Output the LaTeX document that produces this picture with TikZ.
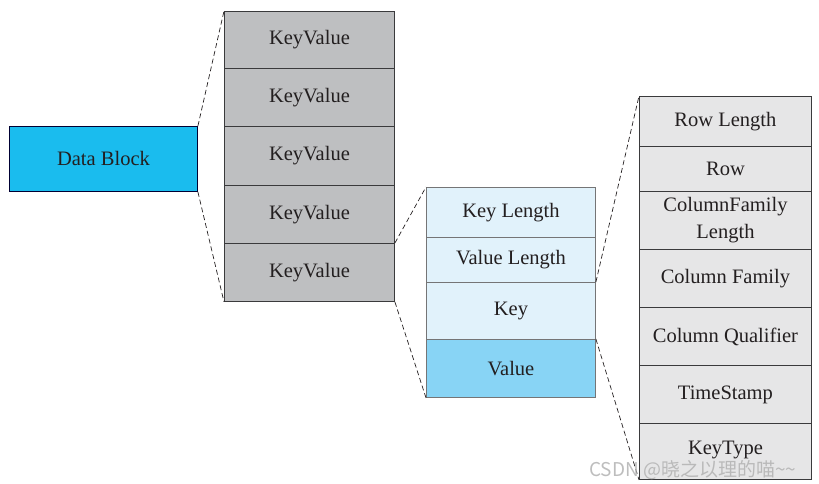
\documentclass[tikz,border=0pt]{standalone}
\usepackage{fontspec}
\setmainfont{Liberation Serif}
\newfontfamily\cjkwm{Noto Sans CJK SC}
\definecolor{dbblue}{HTML}{1ABCEE}
\definecolor{kvgray}{HTML}{BEBFC1}
\definecolor{klblue}{HTML}{E1F2FB}
\definecolor{valblue}{HTML}{88D4F5}
\definecolor{rcgray}{HTML}{E6E6E7}
\definecolor{txt}{HTML}{231F20}
\definecolor{edge}{HTML}{3A3A3C}
\tikzset{
  cell/.style={draw=edge, line width=0.9pt, rectangle, inner sep=0pt, anchor=north west,
    text=txt, font=\fontsize{20.5}{28}\selectfont, align=center},
  conn/.style={dashed, draw=txt, line width=0.7pt, dash pattern=on 5pt off 3pt},
}
\begin{document}
\begin{tikzpicture}[x=1pt,y=-1pt]
\useasboundingbox (0,0) rectangle (819,483);
% Data block
\node[cell, fill=dbblue, draw=black!80!blue, minimum width=188pt, minimum height=65pt] (db) at (9,126) {Data Block};
% KeyValue column
\node[cell, fill=kvgray, minimum width=170pt, minimum height=57pt] (kv1) at (224,11) {KeyValue};
\node[cell, fill=kvgray, minimum width=170pt, minimum height=58pt] (kv2) at (224,68) {KeyValue};
\node[cell, fill=kvgray, minimum width=170pt, minimum height=59pt] (kv3) at (224,126) {KeyValue};
\node[cell, fill=kvgray, minimum width=170pt, minimum height=58pt] (kv4) at (224,185) {KeyValue};
\node[cell, fill=kvgray, minimum width=170pt, minimum height=58pt] (kv5) at (224,243) {KeyValue};
% Key/Value column
\node[cell, fill=klblue, draw=edge!70, minimum width=169pt, minimum height=50pt] (kl) at (426,187) {Key Length};
\node[cell, fill=klblue, draw=edge!70, minimum width=169pt, minimum height=45pt] (vl) at (426,237) {Value Length};
\node[cell, fill=klblue, draw=edge!70, minimum width=169pt, minimum height=57pt] (key) at (426,282) {Key};
\node[cell, fill=valblue, draw=edge!70, minimum width=169pt, minimum height=58pt] (val) at (426,339) {Value};
% Key detail column
\node[cell, fill=rcgray, minimum width=172pt, minimum height=50pt] (rl) at (639,96) {Row Length};
\node[cell, fill=rcgray, minimum width=172pt, minimum height=45pt] (row) at (639,146) {Row};
\node[cell, fill=rcgray, minimum width=172pt, minimum height=58pt] (cfl) at (639,191) {ColumnFamily\\[-1pt]Length};
\node[cell, fill=rcgray, minimum width=172pt, minimum height=58pt] (cf) at (639,249) {Column Family};
\node[cell, fill=rcgray, minimum width=172pt, minimum height=58pt] (cq) at (639,307) {Column Qualifier};
\node[cell, fill=rcgray, minimum width=172pt, minimum height=58pt] (ts) at (639,365) {TimeStamp};
\node[cell, fill=rcgray, minimum width=172pt, minimum height=56pt] (kt) at (639,423) {\raisebox{8pt}{KeyType}};
% connectors
\draw[conn] (db.north east) -- (kv1.north west);
\draw[conn] (db.south east) -- (kv5.south west);
\draw[conn] (kv5.north east) -- (kl.north west);
\draw[conn] (kv5.south east) -- (val.south west);
\draw[conn] (key.north east) -- (rl.north west);
\draw[conn] (val.north east) -- (kt.south west);
% watermark
\node[anchor=west, text=gray!60, opacity=0.85, font=\cjkwm\fontsize{19}{22}\selectfont, inner sep=0pt] (wm) at (589,470) {CSDN @晓之以理的喵\textasciitilde\textasciitilde};
\end{tikzpicture}
\end{document}
